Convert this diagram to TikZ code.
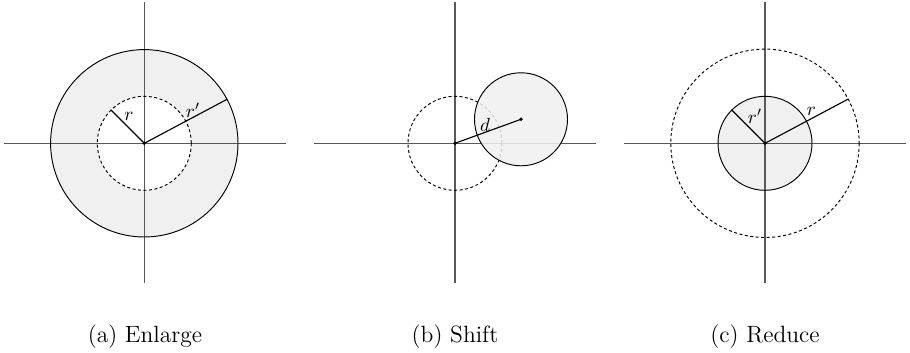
\documentclass[tikz,border=0pt]{standalone}
\usetikzlibrary{calc}
\begin{document}
\begin{tikzpicture}[x=0.5263pt,y=-0.5263pt,
  axis/.style={draw=black!65,line width=0.7pt},
  circ/.style={draw=black,line width=0.5pt},
  dcirc/.style={draw=black,line width=0.5pt,dash pattern=on 1.6pt off 1.3pt},
  ringfill/.style={fill=black!6},
  rad/.style={draw=black,line width=0.6pt},
  lbl/.style={inner sep=0pt,font=\normalsize},
  captext/.style={anchor=base,inner sep=0pt,font=\fontsize{12.4}{15}\selectfont},
  dot/.style={fill=black,circle,inner sep=0pt,minimum size=2pt}]
\useasboundingbox (0,0) rectangle (910,353);

% ---------- (a) Enlarge ----------
\coordinate (Oa) at (144.3,143.3);
\coordinate (aL) at (4,143.3);   \coordinate (aR) at (285.7,143.3);
\coordinate (aT) at (144.3,2.3); \coordinate (aB) at (144.3,283.3);
\fill[ringfill] (Oa) circle[radius=93.7];
\fill[white] (Oa) circle[radius=47];
\draw[axis] (aL) -- (aR);
\draw[axis] (aT) -- (aB);
\draw[circ] (Oa) circle[radius=93.7];
\draw[dcirc] (Oa) circle[radius=47];
\coordinate (ar) at ($(Oa)+(-135:47)$);
\coordinate (arp) at ($(Oa)+(-28:93.7)$);
\draw[rad] (Oa) -- (ar);
\draw[rad] (Oa) -- (arp);
\node[dot] (oad) at (Oa) {};
\node[lbl] (la) at (129,116.5) {$r$};
\node[lbl] (lap) at (193,110) {$r'$};
\node[captext] (capa) at (145,342.5) {(a) Enlarge};

% ---------- (b) Shift ----------
\coordinate (Ob) at (455,143.3);
\coordinate (bL) at (314.3,143.3); \coordinate (bR) at (595.7,143.3);
\coordinate (bT) at (455,2.3);     \coordinate (bB) at (455,283.3);
\coordinate (Cb) at (521,119.3);
\draw[axis] (bL) -- (bR);
\draw[axis] (bT) -- (bB);
\draw[dcirc] (Ob) circle[radius=47];
\fill[black!6,fill opacity=0.85] (Cb) circle[radius=46.5];
\draw[circ] (Cb) circle[radius=46.5];
\draw[rad] (Ob) -- (Cb);
\node[dot] (obd) at (Ob) {};
\node[dot] (cbd) at (Cb) {};
\node[lbl] (ld) at (485,124.5) {$d$};
\node[captext] (capb) at (455,342.5) {(b) Shift};

% ---------- (c) Reduce ----------
\coordinate (Oc) at (765,143.3);
\coordinate (cL) at (624.3,143.3); \coordinate (cR) at (906,143.3);
\coordinate (cT) at (765,2.3);     \coordinate (cB) at (765,283.3);
\fill[ringfill] (Oc) circle[radius=47];
\draw[axis] (cL) -- (cR);
\draw[axis] (cT) -- (cB);
\draw[circ] (Oc) circle[radius=47];
\draw[dcirc] (Oc) circle[radius=94.2];
\coordinate (crp) at ($(Oc)+(-135:47)$);
\coordinate (cr) at ($(Oc)+(-28:94.2)$);
\draw[rad] (Oc) -- (crp);
\draw[rad] (Oc) -- (cr);
\node[dot] (ocd) at (Oc) {};
\node[lbl] (lcp) at (755,116.5) {$r'$};
\node[lbl] (lc) at (811.5,111) {$r$};
\node[captext] (capc) at (765,342.5) {(c) Reduce};
\end{tikzpicture}
\end{document}
